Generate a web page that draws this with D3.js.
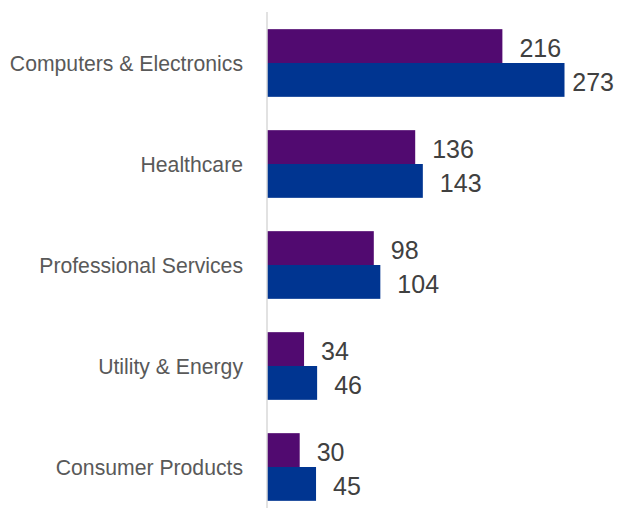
<!DOCTYPE html>
<html><head><meta charset="utf-8">
<script src="https://cdn.jsdelivr.net/npm/d3@7"></script>
<style>body{margin:0;background:#fff}svg{display:block}</style>
</head><body>
<svg id="c" width="617" height="508"></svg>
<script>
const categories = ["Computers & Electronics","Healthcare","Professional Services","Utility & Energy","Consumer Products"];
const seriesA = [216,136,98,34,30];   // purple
const seriesB = [273,143,104,46,45];  // blue
const W = 617, H = 508;
const svg = d3.select("#c");
const x = d3.scaleLinear().domain([0,273]).range([267,564.5]);
const y = d3.scaleBand().domain(categories).range([12.5,517.5]).paddingInner(0.33).paddingOuter(0.165);
const sub = d3.scaleBand().domain(["A","B"]).range([0,y.bandwidth()]);
const colors = {A:"#510A70", B:"#003591"};
const data = categories.map((c,i)=>({c, vals:[{k:"A",v:seriesA[i]},{k:"B",v:seriesB[i]}]}));
const g = svg.selectAll("g.cat").data(data).join("g").attr("class","cat")
  .attr("transform",d=>`translate(0,${y(d.c)})`);
g.selectAll("rect").data(d=>d.vals).join("rect")
  .attr("x",x(0)).attr("y",d=>sub(d.k)).attr("width",d=>x(d.v)-x(0)).attr("height",sub.bandwidth())
  .attr("fill",d=>colors[d.k]);
g.selectAll("text.val").data(d=>d.vals).join("text").attr("class","val")
  .attr("x",d=>x(d.v)+17).attr("y",d=>sub(d.k)+sub.bandwidth()/2+11)
  .attr("font-family","Liberation Sans, Arial, sans-serif").attr("font-size",25).attr("fill","#404040")
  .text(d=>d.v)
  .each(function(){const w=this.getComputedTextLength();const xx=+this.getAttribute("x");if(xx+w>W-3){this.setAttribute("x",W-3-w);}});
// axis
const yAxis = d3.axisLeft(y).tickSize(0).tickPadding(24);
const ag = svg.append("g").attr("transform",`translate(${x(0)},0)`).call(yAxis);
ag.select(".domain").remove();
ag.selectAll("text").attr("font-family","Liberation Sans, Arial, sans-serif").attr("font-size",21.2).attr("fill","#595959").attr("dy","0.36em");
svg.append("line").attr("x1",x(0)).attr("x2",x(0)).attr("y1",12).attr("y2",H).attr("stroke","#d9d9d9").attr("stroke-width",1.5);
</script>
</body></html>
